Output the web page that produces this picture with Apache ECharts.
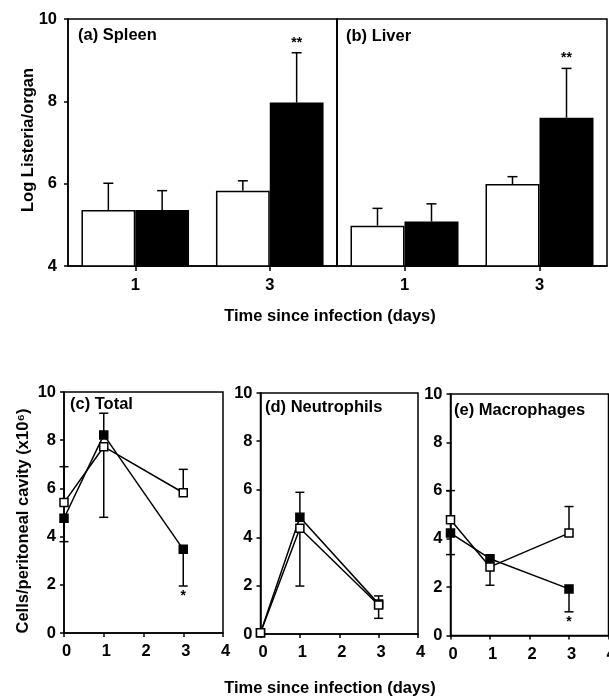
<!DOCTYPE html>
<html>
<head>
<meta charset="utf-8">
<script src="https://cdn.jsdelivr.net/npm/echarts@6/dist/echarts.min.js"></script>
<style>
html,body{margin:0;padding:0;background:#fff;}
#main{width:609px;height:696px;}
</style>
</head>
<body>
<div id="main"></div>
<script>
// ---------- data ----------
const barCategories = ['1', '3'];
const spleenCtrl = [5.36, 5.83];
const spleenCtrlErr = [0.65, 0.24];
const spleenKO = [5.36, 7.97];
const spleenKOErr = [0.47, 1.21];
const spleenSig = ['', '**'];
const liverCtrl = [4.98, 5.99];
const liverCtrlErr = [0.42, 0.18];
const liverKO = [5.08, 7.60];
const liverKOErr = [0.43, 1.20];
const liverSig = ['', '**'];

const days = [0, 1, 3];
const totalOpen = [5.41, 7.73, 5.82];
const totalOpenErr = [1.49, -2.93, 0.97];
const totalFilled = [4.76, 8.22, 3.47];
const totalFilledErr = [-0.97, 0.90, -1.52];
const totalSig = ['', '', '*'];
const neutOpen = [0.05, 4.39, 1.20];
const neutOpenErr = [0, -2.40, 0.38];
const neutFilled = [0.05, 4.84, 1.25];
const neutFilledErr = [0, 1.04, -0.60];
const neutSig = ['', '', ''];
const macOpen = [4.79, 2.84, 4.24];
const macOpenErr = [1.21, -0.76, 1.10];
const macFilled = [4.24, 3.18, 1.93];
const macFilledErr = [-0.89, 0, -0.95];
const macSig = ['', '', '*'];

const yTicksTop = [4, 6, 8, 10];
const yTicksBottom = [0, 2, 4, 6, 8, 10];
const xTicksBottom = [0, 1, 2, 3, 4];

// ---------- style ----------
const FONT = '"Liberation Sans", Arial, Helvetica, sans-serif';
const BLACK = '#000';

const chart = echarts.init(document.getElementById('main'), null, {renderer: 'canvas'});

function gridBox(left, top, width, height) {
  return {left, top, width, height, show: true, borderColor: BLACK, borderWidth: 1.5,
    backgroundColor: 'transparent', containLabel: false, outerBoundsMode: 'none'};
}

const grids = [
  gridBox(68, 19, 269, 247),
  gridBox(337, 19, 270, 247),
  gridBox(64, 392, 159, 241),
  gridBox(260.5, 393, 157.5, 241),
  gridBox(450.5, 394, 158, 241.5)
];

const axisLineStyle = {show: true, onZero: false, lineStyle: {color: BLACK, width: 1.5}};
const labelStyle = {color: BLACK, fontFamily: FONT, fontWeight: 'bold', fontSize: 16.5};

const xAxes = [
  {gridIndex: 0, type: 'category', data: barCategories, axisLine: axisLineStyle,
   axisTick: {show: true, alignWithLabel: true, length: 5, lineStyle: {color: BLACK, width: 1.5}},
   axisLabel: Object.assign({margin: 11}, labelStyle)},
  {gridIndex: 1, type: 'category', data: barCategories, axisLine: axisLineStyle,
   axisTick: {show: true, alignWithLabel: true, length: 5, lineStyle: {color: BLACK, width: 1.5}},
   axisLabel: Object.assign({margin: 11}, labelStyle)}
];
for (let g = 2; g < 5; g++) {
  xAxes.push({gridIndex: g, type: 'value', min: xTicksBottom[0], max: xTicksBottom[xTicksBottom.length - 1], interval: 1,
    axisLine: axisLineStyle, splitLine: {show: false},
    axisTick: {show: true, length: 4, lineStyle: {color: BLACK, width: 1.5}},
    axisLabel: Object.assign({margin: 10, padding: [0, 0, 0, 5]}, labelStyle)});
}

const yAxes = [
  {gridIndex: 0, type: 'value', min: yTicksTop[0], max: yTicksTop[yTicksTop.length - 1], interval: 2,
   axisLine: axisLineStyle, splitLine: {show: false},
   axisTick: {show: true, length: 4, lineStyle: {color: BLACK, width: 1.5}},
   axisLabel: Object.assign({margin: 11}, labelStyle)},
  {gridIndex: 1, type: 'value', min: yTicksTop[0], max: yTicksTop[yTicksTop.length - 1], interval: 2,
   axisLine: axisLineStyle, splitLine: {show: false}, axisTick: {show: false}, axisLabel: {show: false}}
];
for (let g = 2; g < 5; g++) {
  yAxes.push({gridIndex: g, type: 'value', min: yTicksBottom[0], max: yTicksBottom[yTicksBottom.length - 1], interval: 2,
    axisLine: axisLineStyle, splitLine: {show: false},
    axisTick: {show: true, length: 4, lineStyle: {color: BLACK, width: 1.5}},
    axisLabel: Object.assign({margin: 8}, labelStyle)});
}

function barSeries(idx, vals, filled) {
  return {
    type: 'bar', xAxisIndex: idx, yAxisIndex: idx, data: vals,
    barGap: '0%', barCategoryGap: '20%',
    itemStyle: filled ? {color: BLACK, borderColor: BLACK, borderWidth: 1.5}
                      : {color: '#fff', borderColor: BLACK, borderWidth: 1.5},
    silent: true, z: 2
  };
}

function barErrSeries(idx, vals, errs, side, sig) {
  return {
    type: 'custom', xAxisIndex: idx, yAxisIndex: idx, z: 5, silent: true,
    data: vals.map((v, i) => [i, v, errs[i]]),
    renderItem: function (params, api) {
      const i = api.value(0), v = api.value(1), e = api.value(2);
      const base = api.coord([i, v]);
      const tip = api.coord([i, v + e]);
      const bw = api.size([1, 0])[0];
      const x = base[0] + side * 0.2 * bw;
      const st = {stroke: BLACK, lineWidth: 1.5};
      const children = [
        {type: 'line', shape: {x1: x, y1: base[1], x2: x, y2: tip[1]}, style: st},
        {type: 'line', shape: {x1: x - 5, y1: tip[1], x2: x + 5, y2: tip[1]}, style: st}
      ];
      const s = sig ? sig[params.dataIndex] : '';
      if (s) {
        children.push({type: 'text', style: {text: s, x: x, y: tip[1] - 3, align: 'center', verticalAlign: 'bottom',
          font: 'bold 14px ' + FONT, fill: BLACK}});
      }
      return {type: 'group', children: children};
    }
  };
}

function lineSeries(idx, vals, filled) {
  return {
    type: 'line', xAxisIndex: idx, yAxisIndex: idx,
    data: days.map((d, i) => [d, vals[i]]),
    symbol: 'rect', symbolSize: 8, showSymbol: true, clip: false,
    lineStyle: {color: BLACK, width: 1.5},
    itemStyle: filled ? {color: BLACK, borderColor: BLACK, borderWidth: 1.5}
                      : {color: '#fff', borderColor: BLACK, borderWidth: 1.5},
    silent: true, z: 3
  };
}

function lineErrSeries(idx, vals, errs, sig) {
  return {
    type: 'custom', xAxisIndex: idx, yAxisIndex: idx, z: 1, silent: true, clip: false,
    data: days.map((d, i) => [d, vals[i], errs[i]]),
    renderItem: function (params, api) {
      const x0 = api.value(0), v = api.value(1), e = api.value(2);
      if (!e) return null;
      const base = api.coord([x0, v]);
      const tip = api.coord([x0, v + e]);
      const x = base[0];
      const st = {stroke: BLACK, lineWidth: 1.5};
      const children = [
        {type: 'line', shape: {x1: x, y1: base[1], x2: x, y2: tip[1]}, style: st},
        {type: 'line', shape: {x1: x - 4.5, y1: tip[1], x2: x + 4.5, y2: tip[1]}, style: st}
      ];
      const s = sig ? sig[params.dataIndex] : '';
      if (s) {
        children.push({type: 'text', style: {text: s, x: x, y: tip[1] + (e < 0 ? 3 : -3), align: 'center',
          verticalAlign: e < 0 ? 'top' : 'bottom', font: 'bold 14px ' + FONT, fill: BLACK}});
      }
      return {type: 'group', children: children};
    }
  };
}

const series = [
  barSeries(0, spleenCtrl, false), barSeries(0, spleenKO, true),
  barErrSeries(0, spleenCtrl, spleenCtrlErr, -1, null), barErrSeries(0, spleenKO, spleenKOErr, 1, spleenSig),
  barSeries(1, liverCtrl, false), barSeries(1, liverKO, true),
  barErrSeries(1, liverCtrl, liverCtrlErr, -1, null), barErrSeries(1, liverKO, liverKOErr, 1, liverSig),

  lineErrSeries(2, totalFilled, totalFilledErr, totalSig), lineErrSeries(2, totalOpen, totalOpenErr, null),
  lineSeries(2, totalFilled, true), lineSeries(2, totalOpen, false),
  lineErrSeries(3, neutFilled, neutFilledErr, neutSig), lineErrSeries(3, neutOpen, neutOpenErr, null),
  lineSeries(3, neutFilled, true), lineSeries(3, neutOpen, false),
  lineErrSeries(4, macFilled, macFilledErr, macSig), lineErrSeries(4, macOpen, macOpenErr, null),
  lineSeries(4, macFilled, true), lineSeries(4, macOpen, false)
];

function txt(text, x, y, opts) {
  return Object.assign({type: 'text', x: x, y: y, silent: true, z: 10,
    style: {text: text, font: 'bold 16.5px ' + FONT, fill: BLACK, align: 'left', verticalAlign: 'middle'}}, opts || {});
}

const graphic = [
  txt('(a) Spleen', 78, 35),
  txt('(b) Liver', 346, 36),
  txt('(c) Total', 70, 404),
  txt('(d) Neutrophils', 265, 407),
  txt('(e) Macrophages', 454, 410),
  {type: 'text', x: 330, y: 316, silent: true,
   style: {text: 'Time since infection (days)', font: 'bold 16.5px ' + FONT, fill: BLACK, align: 'center', verticalAlign: 'middle'}},
  {type: 'text', x: 330, y: 688, silent: true,
   style: {text: 'Time since infection (days)', font: 'bold 16.5px ' + FONT, fill: BLACK, align: 'center', verticalAlign: 'middle'}},
  {type: 'text', x: 28, y: 140, rotation: Math.PI / 2, silent: true,
   style: {text: 'Log Listeria/organ', font: 'bold 16.5px ' + FONT, fill: BLACK, align: 'center', verticalAlign: 'middle'}},
  {type: 'text', x: 23, y: 521, rotation: Math.PI / 2, silent: true,
   style: {text: 'Cells/peritoneal cavity (x10⁶)', font: 'bold 16.5px ' + FONT, fill: BLACK, align: 'center', verticalAlign: 'middle'}}
];

chart.setOption({
  backgroundColor: '#fff',
  animation: false,
  grid: grids,
  xAxis: xAxes,
  yAxis: yAxes,
  series: series,
  graphic: graphic
});
</script>
</body>
</html>
